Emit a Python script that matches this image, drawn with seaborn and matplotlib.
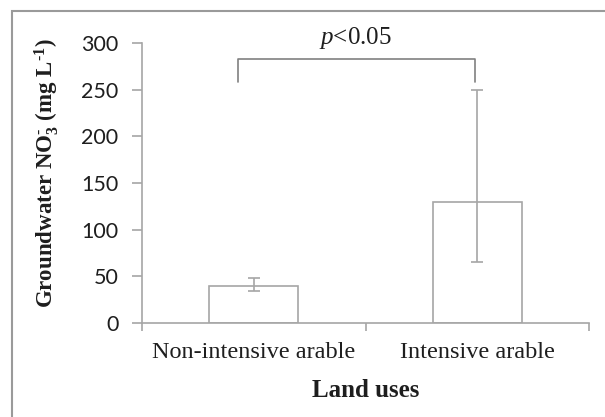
import numpy as np
import pandas as pd
import matplotlib
matplotlib.use("Agg")
import matplotlib.pyplot as plt
from matplotlib.patches import Rectangle
import seaborn as sns

# datos
land_uses = ["Non-intensive arable", "Intensive arable"]
nitrate_mean = [40, 130]
err_low = [34, 65]
err_high = [48, 250]
sig_label = "p<0.05"

sns.set_theme(style="white")
plt.rcParams["mathtext.fontset"] = "custom"
plt.rcParams["mathtext.rm"] = "Liberation Serif"
plt.rcParams["mathtext.it"] = "Liberation Serif:italic"
plt.rcParams["mathtext.bf"] = "Liberation Serif:bold"
plt.rcParams["mathtext.default"] = "regular"

grey = "#a6a6a6"
dark = "#808080"
txt = "#1e1e1e"

df = pd.DataFrame({"land": land_uses, "no3": nitrate_mean})

fig = plt.figure(figsize=(6.05, 4.17), dpi=100)
ax = fig.add_axes([142 / 605, 1 - 323 / 417, (589 - 142) / 605, (323 - 43) / 417])

sns.barplot(data=df, x="land", y="no3", ax=ax, width=0.4, color="white",
            edgecolor=grey, linewidth=1.2, errorbar=None)

pos = np.arange(len(land_uses))
means = np.array(nitrate_mean)
yerr = np.vstack([means - np.array(err_low), np.array(err_high) - means])
ax.errorbar(pos, means, yerr=yerr, fmt="none", ecolor=grey, elinewidth=1.2,
            capsize=4, capthick=1.2, zorder=5)

# corchete de significancia
top = max(err_high) + 33
bot = max(err_high) + 8
ax.plot([-0.07, -0.07, 0.99, 0.99], [bot, top, top, bot], color=dark,
        lw=1.2, clip_on=False)
ax.text(0.455, 299, r"$\it{p}$<0.05", ha="center", va="baseline",
        fontsize=18, family="Liberation Serif", color=txt, clip_on=False)

ax.set_ylim(0, 300)
ax.set_xlim(-0.5, 1.5)
ax.set_yticks(range(0, 301, 50))
ax.tick_params(axis="y", which="major", length=7, width=1.2, color=grey,
               direction="out", pad=10, labelsize=15.5, left=True)
for lab in ax.get_yticklabels():
    lab.set_family("Lato")
    lab.set_color(txt)

ax.set_xticks([-0.5, 0.5, 1.5])
ax.set_xticklabels([])
ax.set_xticks(pos, minor=True)
ax.set_xticklabels(land_uses, minor=True, family="Liberation Serif",
                   fontsize=17.5, color=txt)
ax.tick_params(axis="x", which="major", length=6, width=1.2, color=grey,
               direction="out", bottom=True)
ax.tick_params(axis="x", which="minor", length=0, pad=14)

for s in ["top", "right"]:
    ax.spines[s].set_visible(False)
for s in ["left", "bottom"]:
    ax.spines[s].set_color(grey)
    ax.spines[s].set_linewidth(1.2)

ax.set_xlabel("Land uses", family="Liberation Serif", fontweight="bold",
              fontsize=18, color=txt)
ax.xaxis.set_label_coords(0.5, -0.2)
ax.set_ylabel("Groundwater NO$_3^{\u2010}$ (mg L$^{\u20101}$)", family="Liberation Serif",
              fontweight="bold", fontsize=16.5, color=txt)
ax.yaxis.set_label_coords(-0.182, 0.535)

# marco exterior
fig.add_artist(Rectangle((12 / 605, -0.2), 1.2, 1 - 11 / 417 + 0.2,
                         transform=fig.transFigure, fill=False,
                         edgecolor="#9a9a9a", lw=1.5))

fig.savefig("out.png", dpi=100)
